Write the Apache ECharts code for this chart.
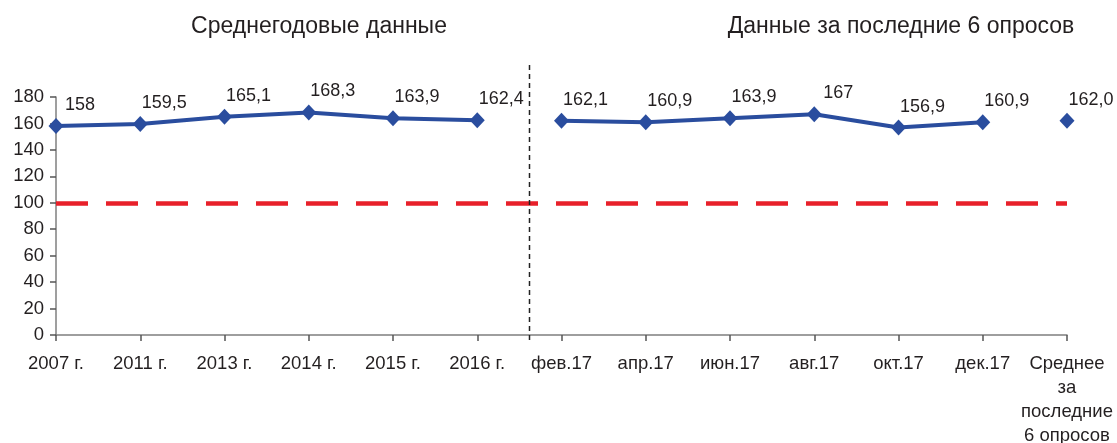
<!DOCTYPE html>
<html><head><meta charset="utf-8">
<script src="https://cdn.jsdelivr.net/npm/echarts@6/dist/echarts.min.js"></script>
<style>html,body{margin:0;padding:0;background:#fff}#c{width:1117px;height:443px}</style>
</head><body><div id="c"></div>
<script>
const categories = ['2007 г.','2011 г.','2013 г.','2014 г.','2015 г.','2016 г.','фев.17','апр.17','июн.17','авг.17','окт.17','дек.17','Среднее\nза\nпоследние\n6 опросов'];
const yearlyValues = [158,159.5,165.1,168.3,163.9,162.4,'-','-','-','-','-','-','-'];
const surveyValues = ['-','-','-','-','-','-',162.1,160.9,163.9,167,156.9,160.9,'-'];
const averageValues = ['-','-','-','-','-','-','-','-','-','-','-','-',162.0];
const thresholdValue = 100;
const yTicks = {min:0, max:180, interval:20};
const titles = ['Среднегодовые данные','Данные за последние 6 опросов'];

const FONT = 'Liberation Sans, Arial, sans-serif';
const TXT = '#231f20';
const BLUE = '#2a4d9e';
const fmt = p => String(p.value).replace('.', ',');
const lbl = (f) => ({show:true, position:'top', offset:[24,1], fontSize:18, fontFamily:FONT, color:TXT, formatter:f||fmt});
const chart = echarts.init(document.getElementById('c'), null, {renderer:'canvas'});
const option = {
  animation:false,
  backgroundColor:'#fff',
  grid:{left:56, right:50, top:97, bottom:108, containLabel:false, outerBoundsMode:'none'},
  title:[
    {text:titles[0], left:314, top:10, textAlign:'center', textStyle:{fontSize:23, fontWeight:'normal', fontFamily:FONT, color:TXT}},
    {text:titles[1], left:896, top:10, textAlign:'center', textStyle:{fontSize:23, fontWeight:'normal', fontFamily:FONT, color:TXT}}
  ],
  xAxis:{type:'category', data:categories, boundaryGap:false,
    axisLine:{lineStyle:{color:'#7f7f7f', width:1.5}},
    axisTick:{show:true, length:6, lineStyle:{color:'#555', width:1.5}},
    axisLabel:{fontSize:18.5, fontFamily:FONT, color:TXT, margin:17, lineHeight:24, interval:0}},
  yAxis:{type:'value', min:yTicks.min, max:yTicks.max, interval:yTicks.interval,
    splitLine:{show:false},
    axisLine:{show:true, lineStyle:{color:'#7f7f7f', width:1.5}},
    axisTick:{show:true, length:6, lineStyle:{color:'#555', width:1.5}},
    axisLabel:{fontSize:18.5, fontFamily:FONT, color:TXT, margin:12}},
  series:[
    {type:'line', data:yearlyValues, symbol:'diamond', symbolSize:[15,16], lineStyle:{color:BLUE, width:4}, itemStyle:{color:BLUE}, label:lbl(),
     markLine:{silent:true, symbol:'none', label:{show:false}, lineStyle:{color:'#e8202a', width:4.5, type:[32,18]}, data:[{yAxis:thresholdValue}]}},
    {type:'line', data:surveyValues, symbol:'diamond', symbolSize:[15,16], lineStyle:{color:BLUE, width:4}, itemStyle:{color:BLUE}, label:lbl()},
    {type:'line', data:averageValues, symbol:'diamond', symbolSize:[15,16], lineStyle:{color:BLUE, width:4}, itemStyle:{color:BLUE}, label:lbl(p=>p.value.toFixed(1).replace('.', ','))}
  ]
};
chart.setOption(option);
const x0 = chart.convertToPixel({xAxisIndex:0}, 5);
const x1 = chart.convertToPixel({xAxisIndex:0}, 6);
const xs = Math.round(x0 + (x1 - x0) * 0.62) + 0.5;
const yBottom = chart.convertToPixel({yAxisIndex:0}, 0);
chart.setOption({graphic:[{type:'line', shape:{x1:xs, y1:65, x2:xs, y2:yBottom+6}, style:{stroke:'#222', lineWidth:1.5, lineDash:[5,4]}, z:10}]});
</script></body></html>
